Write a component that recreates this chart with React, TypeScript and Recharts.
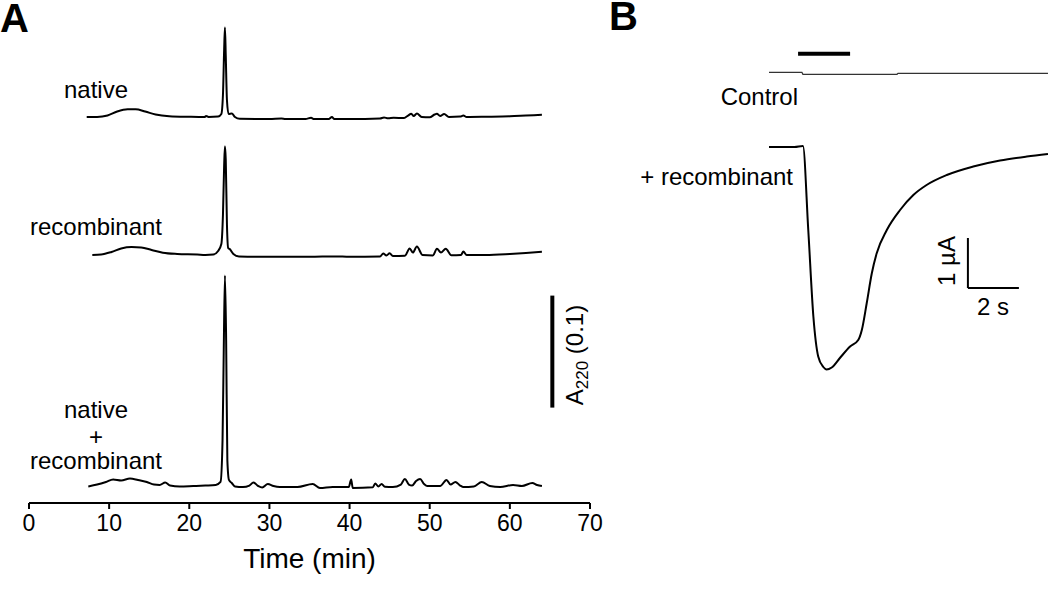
import React from 'react';
import { LineChart, Line, XAxis, YAxis, ReferenceLine, Label } from 'recharts';

const FONT = '"Liberation Sans", Arial, Helvetica, sans-serif';

// Panel A: HPLC traces, [time (min), A220 (mAU)]
const nativeTrace: [number, number][] = [
  [7.2, 0], [8.5, 0], [9.8, 1.3], [11.0, 4.9], [12.3, 6.9], [13.3, 6.9], [14.5, 4.9], [15.8, 2.2],
  [17.5, 0.7], [20.0, 0.2], [21.9, 0], [22.1, 1.0], [22.4, 0], [23.6, 0.4], [24.0, 2.7], [24.2, 19.6],
  [24.35, 60], [24.45, 80], [24.55, 55], [24.7, 15], [24.9, 2.7], [25.3, 3.1], [25.7, 0], [26.3, -1.6],
  [30.0, -1.8], [31.5, -1.3], [32.0, -1.8], [34.5, -1.8], [35.2, -0.7], [35.5, -1.8], [37.4, -1.8],
  [37.8, 0], [38.1, -1.8], [40.0, -1.8], [43.8, -1.3], [44.3, -0.4], [44.8, -1.2], [45.5, -0.7],
  [46.8, -0.9], [47.3, 1.3], [47.7, 2.9], [48.0, 0.9], [48.4, 3.1], [49.0, 0], [50.0, -0.3], [50.6, 2.2],
  [50.9, 2.9], [51.3, 0.9], [51.8, 2.7], [52.4, 0], [53.8, 0.4], [54.2, 1.3], [54.6, 0], [57.0, 0.2],
  [60.0, 0.6], [62.0, 1.3], [64.0, 2.0],
];

const recombinantTrace: [number, number][] = [
  [7.9, 0], [9.0, 0.4], [10.3, 2.7], [11.5, 5.8], [12.8, 7.1], [14.0, 6.7], [15.3, 4.5], [16.7, 2.0],
  [18.5, 0.9], [21.0, 0.4], [22.0, 0], [23.0, 0.4], [23.6, 3.6], [24.0, 9.8], [24.2, 35.7], [24.35, 80],
  [24.45, 97], [24.55, 85], [24.7, 27], [24.85, 6.3], [25.1, 4.9], [25.5, 0.9], [26.2, -1.3], [30.0, -1.6],
  [35.0, -1.6], [38.2, -1.3], [40.0, -1.6], [43.8, -1.3], [44.2, 1.3], [44.6, -0.4], [45.0, 1.5],
  [45.4, -0.9], [46.9, -0.7], [47.5, 5.8], [47.9, 2.2], [48.4, 7.6], [49.1, 0], [50.4, -0.4], [50.9, 5.5],
  [51.4, 2.2], [52.0, 5.5], [52.7, -0.3], [53.9, 0], [54.2, 3.1], [54.6, 0], [57.0, 0], [60.0, 0.9],
  [62.0, 1.8], [64.0, 2.9],
];

const mixTrace: [number, number][] = [
  [7.4, -0.4], [8.5, 1.3], [9.6, 3.6], [10.5, 5.8], [11.5, 4.9], [12.6, 6.7], [13.6, 5.4], [14.7, 3.6],
  [15.6, 1.3], [16.3, 0.9], [17.0, 3.1], [17.6, 0.4], [18.8, -0.4], [20.5, 0], [22.0, 0.4], [23.3, 0.9],
  [23.9, 3.6], [24.15, 41], [24.3, 121], [24.45, 188], [24.6, 130], [24.75, 23], [24.95, 5.4], [25.3, 2.7],
  [25.7, -0.4], [26.7, -0.9], [27.5, 0.4], [28.0, 3.1], [28.6, 0], [29.1, -1.3], [29.8, 1.8], [30.5, 0],
  [31.3, -0.9], [33.5, -0.9], [35.4, 1.8], [36.3, -1.8], [37.9, -0.9], [39.9, -0.9], [40.2, 5.8],
  [40.4, -1.8], [42.9, -1.2], [43.2, 2.2], [43.6, -0.4], [44.0, 1.8], [44.4, -0.7], [45.4, -0.9],
  [46.4, 1.3], [46.9, 6.3], [47.4, 1.3], [47.8, 0.4], [48.3, 4.5], [48.8, 6.3], [49.3, 1.8], [49.7, 0],
  [51.3, 0], [52.1, 5.4], [52.6, 1.3], [53.2, 3.6], [53.8, 0.4], [54.2, -0.9], [55.5, -0.4], [56.5, 3.6],
  [57.5, 0], [58.8, -0.9], [60.4, 0.9], [61.5, 0], [62.8, 2.7], [63.4, 0.9], [64.0, 0],
];

const timeTicks = [0, 10, 20, 30, 40, 50, 60, 70];
const absScaleBar = { t: 65.3, from: 70, to: 170 }; // 0.1 AU = 100 mAU

// Panel B: currents, [time (s), current (µA)]
const controlCurrent: [number, number][] = [
  [0, 0], [1.29, 0], [1.33, -0.04], [5.02, -0.04], [5.06, -0.02], [10.94, -0.02],
];

const recombinantCurrent: [number, number][] = [
  [0, 0], [1.0, 0], [1.33, 0.02], [1.54, -1.66], [1.74, -3.39], [1.93, -4.19], [2.13, -4.4],
  [2.26, -4.45], [2.46, -4.41], [2.78, -4.22], [3.18, -3.99], [3.5, -3.86], [3.64, -3.66],
  [3.83, -3.13], [4.03, -2.53], [4.22, -2.13], [4.62, -1.66], [5.14, -1.26], [5.66, -0.96],
  [6.18, -0.76], [6.97, -0.56], [8.01, -0.39], [9.06, -0.27], [10.11, -0.19], [10.94, -0.14],
];

const application = { start: 1.14, end: 3.18, level: 0.37 };
const currentScaleBar = { t: 7.8, dt: 2, i: -2.82, di: 1 };

const toPoints = (arr: [number, number][]) => arr.map(([t, v]) => ({ t, v }));

// place a trace's zero at a given pixel row of the plot
const stackDomain = (basePx: number, top: number, height: number, pxPerUnit: number): [number, number] => [
  -(top + height - basePx) / pxPerUnit,
  (basePx - top) / pxPerUnit,
];

const A_TOP = 20;
const A_H = 483;
const A_PX = 1.12; // px per mAU
const B_TOP = 40;
const B_H = 340;
const B_PX = 50; // px per µA

const txt = { fontFamily: FONT, fill: '#000' };

const App: React.FC = () => {
  return (
    <div style={{ position: 'absolute', left: 0, top: 0, width: 1050, height: 593, background: '#fff' }}>
      <div style={{ position: 'absolute', left: 0, top: 0 }}>
        <LineChart width={610} height={578} margin={{ top: A_TOP, right: 20, bottom: 0, left: 29 }}>
          <XAxis
            dataKey="t"
            type="number"
            domain={[0, 70]}
            ticks={timeTicks}
            allowDataOverflow
            height={75}
            tickSize={6}
            tickMargin={6}
            axisLine={{ stroke: '#000', strokeWidth: 2 }}
            tickLine={{ stroke: '#000', strokeWidth: 2 }}
            tick={{ fill: '#000', fontSize: 23, fontFamily: FONT }}
          >
            <Label value="Time (min)" position="insideBottom" offset={10} style={{ fontSize: 28, fontFamily: FONT, fill: '#000' }} />
          </XAxis>
          <YAxis yAxisId="native" hide allowDataOverflow domain={stackDomain(117, A_TOP, A_H, A_PX)} />
          <YAxis yAxisId="rec" hide allowDataOverflow domain={stackDomain(255, A_TOP, A_H, A_PX)} />
          <YAxis yAxisId="mix" hide allowDataOverflow domain={stackDomain(486, A_TOP, A_H, A_PX)} />
          <Line yAxisId="native" data={toPoints(nativeTrace)} dataKey="v" type="monotone" dot={false} stroke="#000" strokeWidth={2} isAnimationActive={false} />
          <Line yAxisId="rec" data={toPoints(recombinantTrace)} dataKey="v" type="monotone" dot={false} stroke="#000" strokeWidth={2} isAnimationActive={false} />
          <Line yAxisId="mix" data={toPoints(mixTrace)} dataKey="v" type="monotone" dot={false} stroke="#000" strokeWidth={2} isAnimationActive={false} />
          <ReferenceLine
            yAxisId="mix"
            segment={[{ x: absScaleBar.t, y: absScaleBar.from }, { x: absScaleBar.t, y: absScaleBar.to }]}
            stroke="#000"
            strokeWidth={4}
            ifOverflow="visible"
          />
        </LineChart>
      </div>

      <div style={{ position: 'absolute', left: 760, top: 30 }}>
        <LineChart width={290} height={360} margin={{ top: 10, right: 2, bottom: 10, left: 9 }}>
          <XAxis dataKey="t" type="number" domain={[0, 10.941]} allowDataOverflow hide />
          <YAxis yAxisId="ctrl" hide allowDataOverflow domain={stackDomain(72.3, B_TOP, B_H, B_PX)} />
          <YAxis yAxisId="rec" hide allowDataOverflow domain={stackDomain(147, B_TOP, B_H, B_PX)} />
          <Line yAxisId="ctrl" data={toPoints(controlCurrent)} dataKey="v" type="linear" dot={false} stroke="#333" strokeWidth={1.3} isAnimationActive={false} />
          <Line yAxisId="rec" data={toPoints(recombinantCurrent)} dataKey="v" type="monotone" dot={false} stroke="#000" strokeWidth={2} isAnimationActive={false} />
          <ReferenceLine
            yAxisId="ctrl"
            segment={[{ x: application.start, y: application.level }, { x: application.end, y: application.level }]}
            stroke="#000"
            strokeWidth={4}
            ifOverflow="visible"
          />
          <ReferenceLine
            yAxisId="rec"
            segment={[{ x: currentScaleBar.t, y: currentScaleBar.i + currentScaleBar.di }, { x: currentScaleBar.t, y: currentScaleBar.i }]}
            stroke="#000"
            strokeWidth={2}
            ifOverflow="visible"
          />
          <ReferenceLine
            yAxisId="rec"
            segment={[{ x: currentScaleBar.t, y: currentScaleBar.i }, { x: currentScaleBar.t + currentScaleBar.dt, y: currentScaleBar.i }]}
            stroke="#000"
            strokeWidth={2}
            ifOverflow="visible"
          />
        </LineChart>
      </div>

      <svg width={1050} height={593} style={{ position: 'absolute', left: 0, top: 0, pointerEvents: 'none' }}>
        <text x={0} y={32} style={txt} fontSize={40} fontWeight="bold">A</text>
        <text x={638} y={30} style={txt} fontSize={40} fontWeight="bold" textAnchor="end">B</text>

        <text x={96} y={98} style={txt} fontSize={24} textAnchor="middle">native</text>
        <text x={96} y={235} style={txt} fontSize={24} textAnchor="middle">recombinant</text>
        <text x={96} y={418} style={txt} fontSize={24} textAnchor="middle">native</text>
        <text x={96} y={445} style={txt} fontSize={24} textAnchor="middle">+</text>
        <text x={96} y={469} style={txt} fontSize={24} textAnchor="middle">recombinant</text>

        <text transform="translate(583,355) rotate(-90)" style={txt} fontSize={24} textAnchor="middle">
          A<tspan fontSize={17} dy={5}>220</tspan>
          <tspan dy={-5}> (0.1)</tspan>
        </text>

        <text x={798} y={105} style={txt} fontSize={24} textAnchor="end">Control</text>
        <text x={793} y={185} style={txt} fontSize={24} textAnchor="end">+ recombinant</text>
        <text transform="translate(955,261) rotate(-90)" style={txt} fontSize={24} textAnchor="middle">1 µA</text>
        <text x={993} y={315} style={txt} fontSize={24} textAnchor="middle">2 s</text>
      </svg>
    </div>
  );
};

export default App;
